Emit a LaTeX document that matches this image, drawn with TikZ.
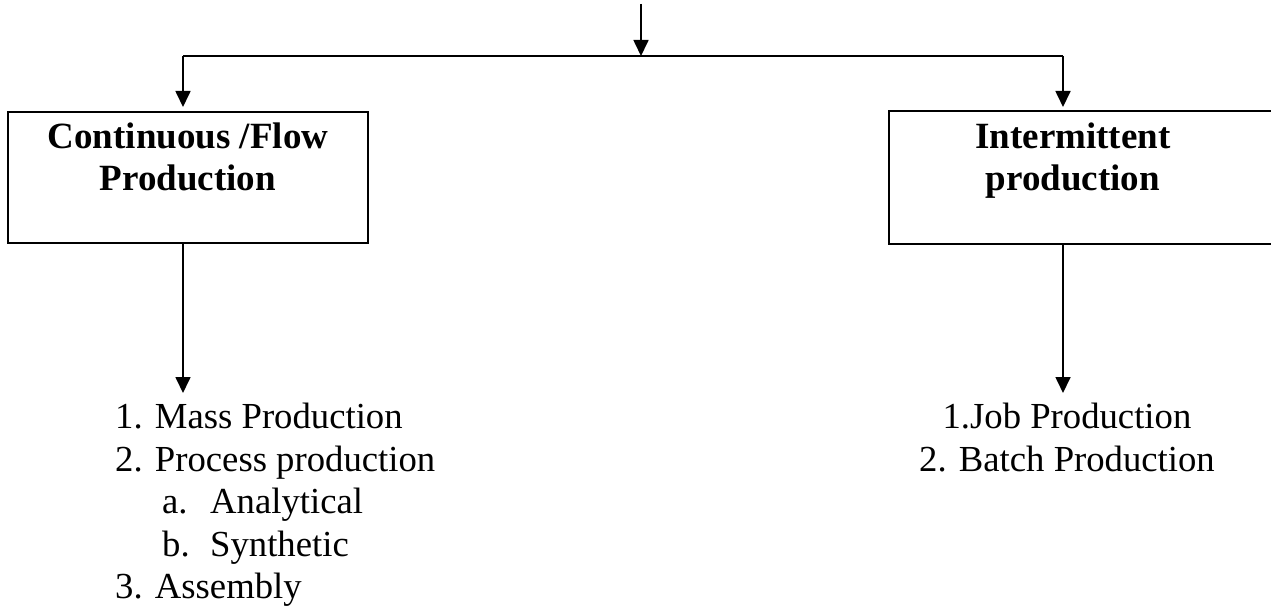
\documentclass[tikz,border=0pt]{standalone}
\usepackage{fontspec}
\setmainfont{Liberation Serif}
\usetikzlibrary{arrows.meta}
\tikzset{
  box/.style={draw, line width=2pt, minimum width=360pt, minimum height=131pt,
    align=center, inner sep=0pt, font=\fontsize{37}{42}\selectfont\bfseries},
  arr/.style={line width=1.7pt, -{Triangle[length=16pt,width=15pt]}},
  item/.style={inner xsep=0pt, inner ysep=10pt, font=\fontsize{36.7}{42.5}\selectfont}
}
\begin{document}
\begin{tikzpicture}[x=1pt,y=1pt]
\useasboundingbox (0,0) rectangle (1271,-607);
\clip (0,0) rectangle (1271,-607);
   \coordinate (top) at (641,-4);
   \coordinate (J) at (641,-56);
   \coordinate (JL) at (183,-56);
   \coordinate (JR) at (1063,-56);

   \node[box] at (188,-177.5) (C) {Continuous /Flow\\Production\\\mbox{}};
   \node[box, draw=none, minimum width=366pt] at (1073,-177.5) (I) {Intermittent\\production\\\mbox{}};
   \draw[line width=2pt] (I.north west) rectangle ([xshift=30pt]I.south east);

   \node[item, align=left, anchor=north west] at (115,-393) (M) {1. Mass Production\\2. Process production\\\hspace*{47pt}\makebox[48pt][l]{a.}Analytical\\\hspace*{47pt}\makebox[48pt][l]{b.}Synthetic\\3. Assembly};
   \node[item, align=center, anchor=north] at (1067,-393) (R) {1.Job Production\\2. Batch Production};

   \draw[arr] (top) -- (J);
   \draw[line width=2pt] (JL) -- (JR);
   \draw[arr, shorten >=4pt] (JL) -- (JL |- C.north);
   \draw[arr, shorten >=4pt] (JR) -- (JR |- I.north);
   \draw[arr] (C.south -| JL) -- (M.north -| JL);
   \draw[arr] (I.south -| JR) -- (R.north -| JR);

\end{tikzpicture}
\end{document}
